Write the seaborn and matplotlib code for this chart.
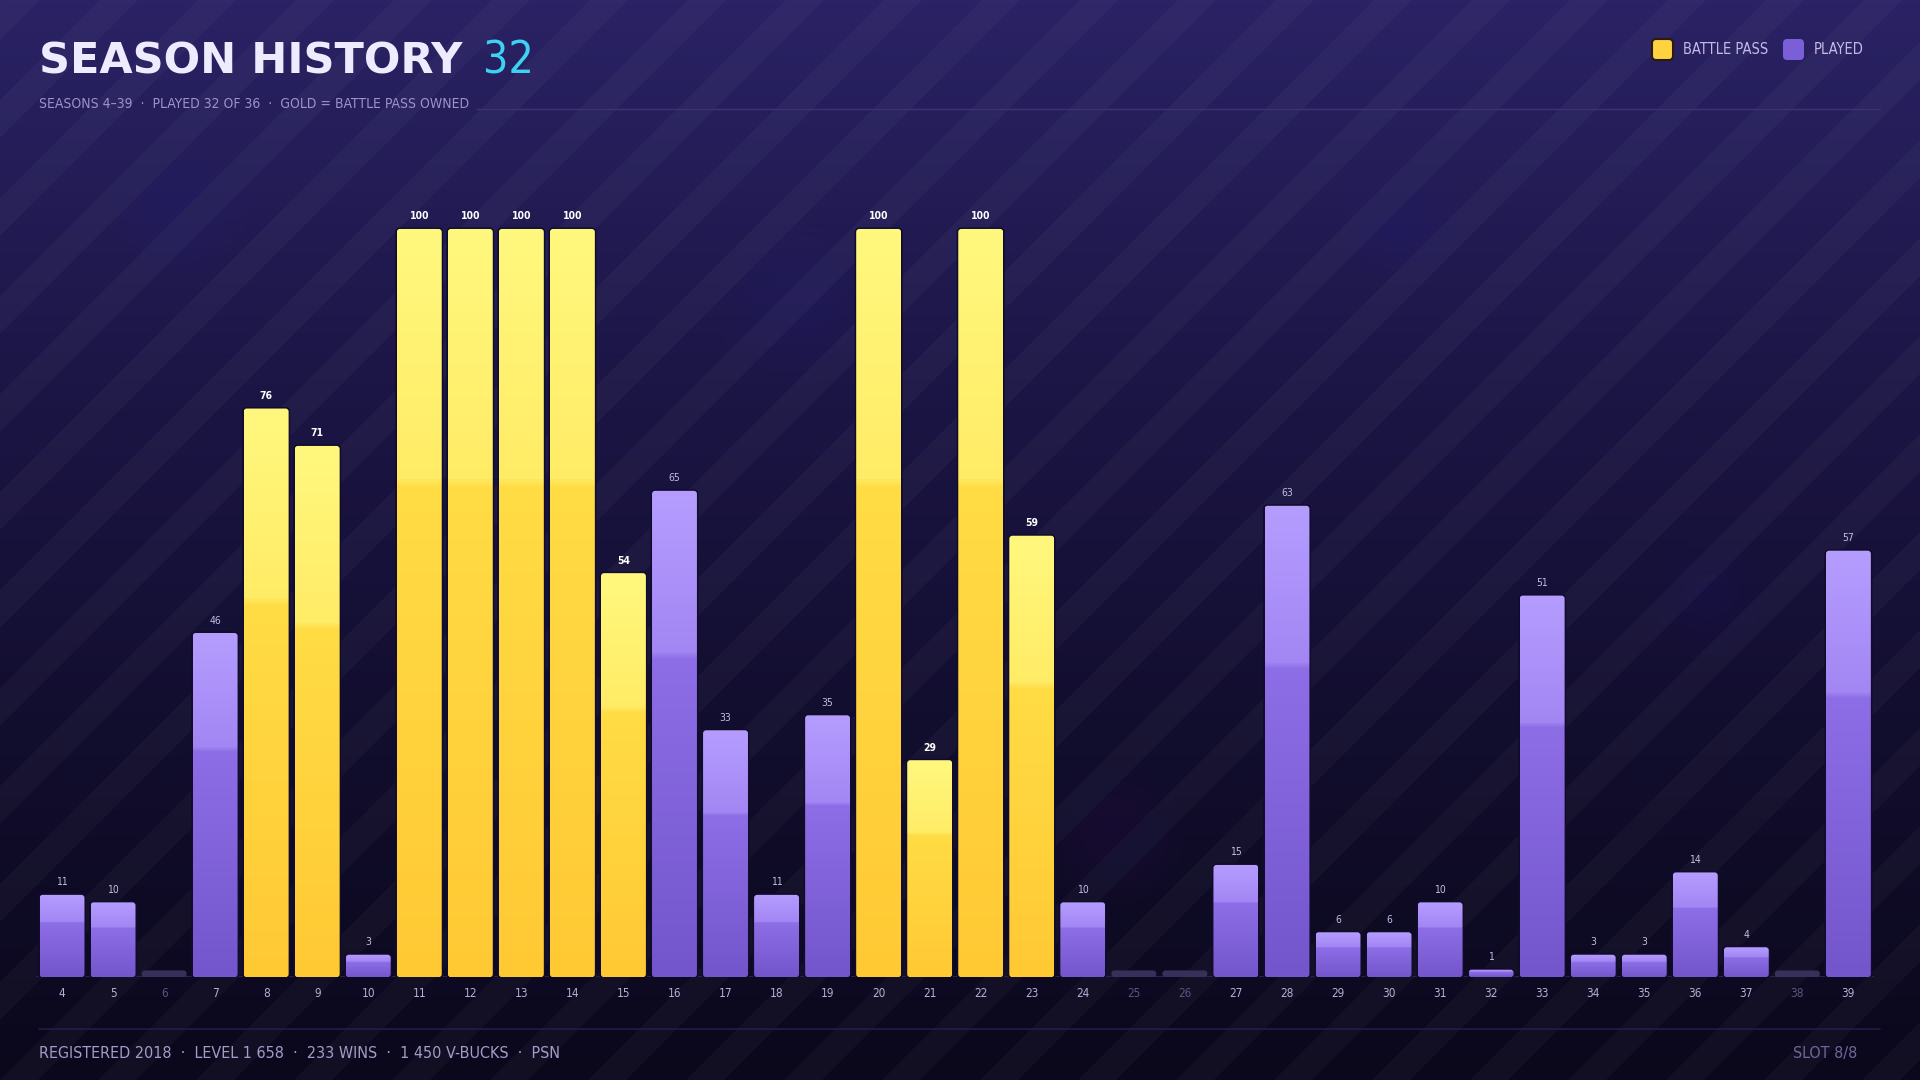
import numpy as np
import pandas as pd
import seaborn as sns
import matplotlib.pyplot as plt
from matplotlib.patches import FancyBboxPatch, Polygon, Circle
from matplotlib.colors import LinearSegmentedColormap
from matplotlib.lines import Line2D


### Data: season number, battle pass progress, which seasons had a pass / were skipped
seasons = list(range(4, 40))
progress = [11, 10, 0, 46, 76, 71, 3, 100, 100, 100, 100, 54, 65, 33, 11, 35, 100, 29,
            100, 59, 10, 0, 0, 15, 63, 6, 6, 10, 1, 51, 3, 3, 14, 4, 0, 57]
battle_pass_seasons = [8, 9, 11, 12, 13, 14, 15, 20, 21, 22, 23]
skipped_seasons = [6, 25, 26, 38]

title = 'SEASON HISTORY'
title_count = '32'
subtitle = 'SEASONS 4\u201339  \u00b7  PLAYED 32 OF 36  \u00b7  GOLD = BATTLE PASS OWNED'
footer_left = 'REGISTERED 2018  \u00b7  LEVEL 1 658  \u00b7  233 WINS  \u00b7  1 450 V-BUCKS  \u00b7  PSN'
footer_right = 'SLOT 8/8'
legend_labels = ['BATTLE PASS', 'PLAYED']

status = ['bp' if s in battle_pass_seasons else ('none' if s in skipped_seasons else 'played')
          for s in seasons]
df = pd.DataFrame({'season': [str(s) for s in seasons], 'progress': progress, 'status': status})
STUB = 0.9   # height of the grey stub drawn for skipped seasons
df['bar'] = np.where(df['status'] == 'none', STUB, df['progress'])


### Style
sns.set_theme(style='white')
plt.rcParams['font.family'] = ['DejaVu Sans']
plt.rcParams['font.stretch'] = 'condensed'

GOLD, PURPLE, STUBC = '#ffd23f', '#7b5fd8', '#37315a'
gold_cmap = LinearSegmentedColormap.from_list(
    'gold', [(0, '#ffc934'), (0.655, '#ffdc45'), (0.668, '#ffec66'), (1, '#fff87e')])
purple_cmap = LinearSegmentedColormap.from_list(
    'purple', [(0, '#7355cc'), (0.655, '#8d6ee6'), (0.668, '#a286f3'), (1, '#b59dff')])

fig = plt.figure(figsize=(19.2, 10.8), dpi=100)

### Background: vertical gradient, diagonal stripes, soft blobs
bg = fig.add_axes([0, 0, 1, 1])
bg.set_xlim(0, 1920)
bg.set_ylim(0, 1080)
bg.axis('off')
bg_cmap = LinearSegmentedColormap.from_list(
    'bg', [(0, '#0b081c'), (0.3, '#110d2c'), (0.62, '#1b1544'), (1, '#2a2264')])
bg.imshow(np.linspace(0, 1, 256)[:, None], extent=[0, 1920, 0, 1080], origin='lower',
          cmap=bg_cmap, aspect='auto', zorder=0)
for k in range(-14, 22):
    x0 = k * 98
    bg.add_patch(Polygon([(x0, 0), (x0 + 38, 0), (x0 + 38 + 1080, 1080), (x0 + 1080, 1080)],
                         closed=True, facecolor='white', alpha=0.03, lw=0, zorder=1))
for cx, cy, r in [(178, 870, 70), (796, 775, 80), (1402, 855, 60), (1708, 480, 60), (1114, 245, 70)]:
    for j in range(8):
        bg.add_patch(Circle((cx, cy), r * (1 - j / 9), facecolor='#6a5ab0', alpha=0.012, lw=0, zorder=1))


### Bars
YMAX = 108.95
ax = fig.add_axes([0.019, 0.0952, 0.957, 0.7548])
ax.set_facecolor('none')
sns.barplot(data=df, x='season', y='bar', hue='status', dodge=False, width=0.88,
            palette={'bp': GOLD, 'played': PURPLE, 'none': STUBC}, saturation=1,
            legend=False, ax=ax)

for p in list(ax.patches):
    x0, w, h = p.get_x(), p.get_width(), p.get_height()
    if not np.isfinite(h) or h <= 0:
        p.remove()
        continue
    i = int(round(x0 + w / 2))
    st = df['status'][i]
    p.remove()
    box = FancyBboxPatch((x0, 0), w, h, boxstyle='round,pad=0,rounding_size=0.06',
                         mutation_aspect=6.8, facecolor=STUBC if st == 'none' else GOLD,
                         edgecolor='#120c2c', lw=2.2, zorder=2)
    ax.add_patch(box)
    if st == 'none':
        box.set_edgecolor('none')
        continue
    im = ax.imshow(np.linspace(0, 1, 200)[:, None], extent=[x0, x0 + w, 0, h], origin='lower',
                   aspect='auto', cmap=gold_cmap if st == 'bp' else purple_cmap, zorder=3)
    im.set_clip_path(box)
    lbl_color = '#ffffff' if st == 'bp' else '#c4bce6'
    ax.text(i, h + 1.0, str(df['progress'][i]), ha='center', va='bottom', fontsize=7.5,
            color=lbl_color, fontweight='bold' if st == 'bp' else 'normal', zorder=5)

ax.axhline(0, color='#2c2656', lw=2, zorder=1)
ax.set_xlim(-0.5, len(seasons) - 0.5)
ax.set_ylim(0, YMAX)
ax.set_yticks([])
ax.set_xlabel('')
ax.set_ylabel('')
ax.set_xticks(range(len(seasons)))
ax.set_xticklabels(df['season'])
ax.tick_params(axis='x', length=0, pad=7, labelsize=8.5)
for lbl, st in zip(ax.get_xticklabels(), status):
    lbl.set_color('#5c5482' if st == 'none' else '#b6aed8')
for s in ax.spines.values():
    s.set_visible(False)


### Header
t = fig.text(0.0204, 0.932, title, fontsize=31, fontweight='heavy', color='#efebff',
             stretch='normal', va='baseline')
fig.canvas.draw()
ext = t.get_window_extent()
fig.text((ext.x1 + 20) / 1920, 0.932, title_count, fontsize=32, color='#3cd2f2', va='baseline')
st_txt = fig.text(0.0204, 0.900, subtitle, fontsize=10, color='#9c94c8', va='baseline')
fig.canvas.draw()
sx = st_txt.get_window_extent().x1
fig.add_artist(Line2D([(sx + 8) / 1920, 0.979], [0.899, 0.899], color='#3b3375', lw=1))

# legend: rounded swatches drawn in figure pixels
for sx0, col, edge, lab in [(1652, GOLD, '#2a1a10', legend_labels[0]), (1783, PURPLE, 'none', legend_labels[1])]:
    fig.add_artist(FancyBboxPatch((sx0 / 1920, 1 - 60 / 1080), 21 / 1920, 21 / 1080,
                                  boxstyle='round,pad=0,rounding_size=0.0022', mutation_aspect=1.78,
                                  facecolor=col, edgecolor=edge, lw=1.5, transform=fig.transFigure))
    fig.text((sx0 + 31) / 1920, 1 - 50 / 1080, lab, fontsize=10.5, color='#c2bae8', va='center')


### Footer
fig.add_artist(Line2D([0.0204, 0.979], [0.0476, 0.0476], color='#231d48', lw=1.2))
fig.text(0.0204, 0.0245, footer_left, fontsize=11.5, color='#a39cc6', va='center')
fig.text(0.9675, 0.0245, footer_right, fontsize=11.5, color='#6f6896', va='center', ha='right')

plt.savefig('out.png', dpi=100)
